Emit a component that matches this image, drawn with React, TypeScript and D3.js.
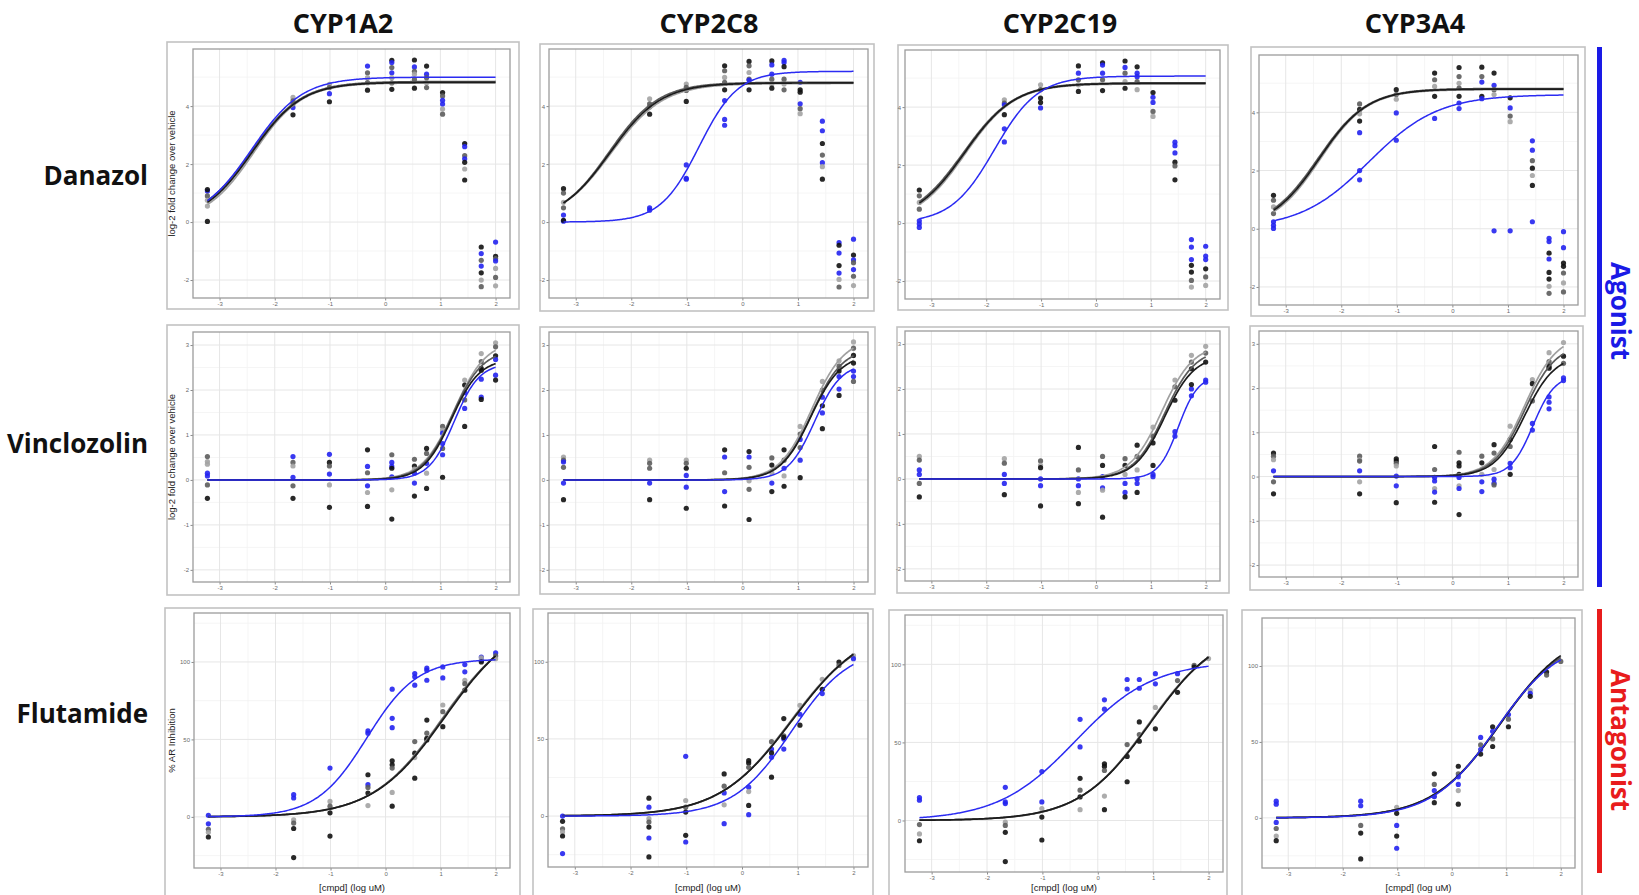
import { useEffect, useRef } from "react";
import * as d3 from "d3";

// log10 doses (uM) used in every panel
const doses = [-3.22, -1.67, -1.01, -0.32, 0.12, 0.53, 0.75, 1.04, 1.44, 1.74, 2.0];
const enzymes = ["CYP1A2", "CYP2C8", "CYP2C19", "CYP3A4"];
const compounds = ["Danazol", "Vinclozolin", "Flutamide"];
const yTitles = ["log-2 fold change over vehicle", "log-2 fold change over vehicle", "% AR Inhibition"];
const xTitle = "[cmpd] (log uM)";
const xTicks = [-3, -2, -1, 0, 1, 2];
const xMinor = [-2.5, -1.5, -0.5, 0.5, 1.5];
const yTicks = [[-2, 0, 2, 4], [-2, -1, 0, 1, 2, 3], [0, 50, 100]];
const yMinor = [[-1, 1, 3, 5], [-1.5, -0.5, 0.5, 1.5, 2.5], [-25, 25, 75, 125]];
const yDomains = [[-2.62, 5.97], [-2.27, 3.29], [-33, 131.6]];

// points per dose: [colour, value]  k=black g=grey l=light grey b=blue
const danazolCYP1A2 = [
  [["b", 1.07], ["k", 1.12], ["g", 0.9], ["l", 0.75], ["l", 0.55], ["k", 0.02]],
  [["l", 4.3], ["g", 4.18], ["b", 3.95], ["k", 3.7], ["g", 4.07]],
  [["l", 4.75], ["g", 4.64], ["b", 4.43], ["k", 4.15]],
  [["b", 5.38], ["g", 5.15], ["l", 4.98], ["g", 4.81], ["k", 4.55]],
  [["k", 5.58], ["b", 5.5], ["b", 5.15], ["g", 5.33], ["l", 4.98], ["g", 4.8], ["k", 4.58]],
  [["k", 5.59], ["b", 5.35], ["g", 5.2], ["l", 5.1], ["g", 4.92], ["k", 4.62]],
  [["k", 5.38], ["b", 5.1], ["g", 4.98], ["l", 4.81], ["g", 4.64]],
  [["k", 4.47], ["g", 4.35], ["b", 4.07], ["b", 4.2], ["l", 3.9], ["g", 3.72]],
  [["k", 2.71], ["b", 2.6], ["g", 2.29], ["b", 2.18], ["k", 2.06], ["l", 1.83], ["k", 1.45]],
  [["k", -0.86], ["b", -1.09], ["b", -1.52], ["k", -1.75], ["l", -2.0], ["g", -2.23], ["g", -1.32]],
  [["b", -0.69], ["k", -1.18], ["g", -1.26], ["b", -1.34], ["l", -1.6], ["g", -1.91], ["l", -2.2]],
];
const danazolCYP2C8 = [
  [["k", 1.15], ["g", 1.0], ["l", 0.68], ["g", 0.49], ["b", 0.24], ["b", 0.03], ["k", 0.06]],
  [["l", 4.25], ["g", 4.08], ["k", 3.72], ["b", 0.49], ["b", 0.41], ["g", 3.97]],
  [["l", 4.76], ["g", 4.65], ["g", 4.54], ["k", 4.16], ["b", 1.97], ["b", 1.48], ["b", 1.51]],
  [["k", 5.39], ["g", 5.22], ["l", 4.99], ["g", 4.82], ["k", 4.56], ["b", 4.19], ["b", 3.54], ["b", 3.34]],
  [["k", 5.54], ["g", 5.39], ["l", 5.16], ["g", 4.93], ["k", 4.56], ["b", 4.9]],
  [["k", 5.56], ["b", 5.42], ["b", 5.1], ["g", 4.93], ["l", 4.76], ["k", 4.62]],
  [["b", 5.58], ["b", 5.5], ["k", 5.36], ["g", 4.93], ["l", 4.76], ["g", 4.56]],
  [["b", 4.82], ["k", 4.56], ["k", 4.48], ["b", 4.08], ["g", 3.91], ["l", 3.74]],
  [["b", 3.48], ["b", 3.15], ["k", 2.71], ["g", 2.31], ["b", 2.05], ["l", 1.91], ["k", 1.48]],
  [["b", -0.71], ["k", -0.8], ["b", -1.07], ["k", -1.5], ["b", -1.76], ["l", -1.98], ["g", -2.24]],
  [["b", -0.59], ["k", -1.14], ["b", -1.3], ["b", -1.64], ["g", -1.87], ["l", -2.19], ["g", -1.4]],
];
const danazolCYP2C19 = [
  [["k", 1.14], ["g", 0.94], ["l", 0.71], ["g", 0.48], ["b", 0.08], ["b", -0.03], ["b", -0.15]],
  [["l", 4.25], ["g", 4.14], ["b", 4.08], ["k", 3.74], ["b", 3.25], ["b", 2.8]],
  [["l", 4.77], ["g", 4.6], ["k", 4.31], ["k", 4.16], ["b", 3.97]],
  [["k", 5.42], ["b", 5.17], ["g", 4.94], ["l", 4.77], ["k", 4.54]],
  [["k", 5.53], ["b", 5.45], ["b", 5.17], ["g", 4.94], ["k", 4.57]],
  [["k", 5.59], ["b", 5.37], ["g", 5.17], ["l", 4.88], ["k", 4.65]],
  [["k", 5.39], ["b", 5.17], ["b", 5.05], ["g", 4.88], ["l", 4.6]],
  [["k", 4.5], ["b", 4.34], ["b", 4.16], ["g", 3.85], ["l", 3.68]],
  [["b", 2.79], ["b", 2.67], ["b", 2.42], ["k", 2.1], ["g", 1.97], ["k", 1.49]],
  [["b", -0.57], ["b", -0.83], ["b", -1.26], ["k", -1.46], ["k", -1.69], ["g", -1.98], ["l", -2.21]],
  [["b", -0.8], ["b", -1.14], ["b", -1.26], ["k", -1.58], ["g", -1.86], ["l", -2.15]],
];
const danazolCYP3A4 = [
  [["k", 1.15], ["g", 0.98], ["l", 0.75], ["g", 0.52], ["b", 0.24], ["b", 0.12], ["b", 0.01]],
  [["g", 4.29], ["k", 4.1], ["k", 3.7], ["b", 3.3], ["b", 2.0], ["b", 1.68], ["l", 3.95]],
  [["k", 4.78], ["g", 4.61], ["b", 3.98], ["b", 3.04], ["l", 4.45]],
  [["k", 5.35], ["g", 5.12], ["l", 4.89], ["k", 4.55], ["b", 3.79]],
  [["k", 5.54], ["g", 5.23], ["l", 5.0], ["g", 4.83], ["k", 4.55], ["b", 4.32], ["b", 4.13]],
  [["k", 5.55], ["g", 5.23], ["b", 5.04], ["k", 4.55], ["b", 4.47]],
  [["k", 5.35], ["b", 4.93], ["g", 4.78], ["l", 4.61], ["b", -0.07]],
  [["k", 4.5], ["b", 4.15], ["g", 3.87], ["l", 3.68], ["b", -0.07]],
  [["b", 3.02], ["b", 2.7], ["g", 2.34], ["k", 2.08], ["l", 1.83], ["k", 1.49], ["b", 0.24]],
  [["b", -0.33], ["b", -0.44], ["k", -0.84], ["b", -1.04], ["k", -1.5], ["k", -1.73], ["l", -1.98], ["g", -2.22]],
  [["b", -0.1], ["b", -0.65], ["k", -1.18], ["k", -1.29], ["g", -1.52], ["l", -1.86], ["g", -2.17]],
];

const vinclozolinCYP1A2 = [
  [["g", 0.52], ["l", 0.41], ["b", 0.15], ["b", 0.09], ["g", -0.11], ["k", -0.41], ["l", 0.35]],
  [["b", 0.52], ["g", 0.39], ["l", 0.31], ["b", 0.06], ["g", -0.13], ["k", -0.41]],
  [["b", 0.57], ["k", 0.39], ["g", 0.31], ["b", 0.13], ["l", -0.11], ["k", -0.61]],
  [["k", 0.67], ["b", 0.3], ["g", 0.16], ["b", -0.13], ["l", -0.28], ["k", -0.59]],
  [["g", 0.56], ["b", 0.39], ["b", 0.3], ["k", 0.26], ["b", 0.07], ["l", -0.22], ["k", -0.87]],
  [["g", 0.46], ["k", 0.31], ["l", 0.24], ["b", 0.15], ["b", -0.07], ["k", -0.36]],
  [["k", 0.7], ["g", 0.59], ["b", 0.37], ["l", 0.15], ["k", -0.19]],
  [["g", 1.19], ["l", 1.11], ["b", 1.04], ["b", 0.81], ["g", 0.7], ["b", 0.56], ["k", 0.06]],
  [["l", 2.22], ["k", 2.11], ["b", 1.94], ["g", 1.78], ["b", 1.59], ["k", 1.19]],
  [["l", 2.81], ["g", 2.63], ["k", 2.48], ["k", 2.44], ["b", 2.24], ["b", 1.84], ["k", 1.79]],
  [["l", 3.05], ["g", 2.96], ["k", 2.76], ["b", 2.68], ["b", 2.33], ["k", 2.22]],
];
const vinclozolinCYP2C8 = [
  [["l", 0.51], ["g", 0.44], ["g", 0.28], ["b", -0.07], ["k", -0.44], ["b", 0.4]],
  [["l", 0.44], ["g", 0.37], ["g", 0.26], ["b", -0.07], ["k", -0.44]],
  [["l", 0.44], ["g", 0.37], ["k", 0.26], ["b", 0.1], ["b", -0.16], ["k", -0.63]],
  [["k", 0.67], ["b", 0.51], ["g", 0.16], ["b", -0.26], ["k", -0.58]],
  [["k", 0.63], ["b", 0.51], ["g", 0.28], ["l", -0.02], ["g", -0.21], ["k", -0.88]],
  [["g", 0.49], ["k", 0.33], ["l", 0.16], ["b", -0.07], ["k", -0.26]],
  [["k", 0.67], ["g", 0.44], ["b", 0.26], ["l", 0.09], ["k", -0.14]],
  [["l", 1.19], ["g", 1.02], ["b", 0.9], ["g", 0.72], ["b", 0.44], ["k", 0.05]],
  [["l", 2.19], ["g", 2.0], ["b", 1.84], ["k", 1.65], ["b", 1.49], ["k", 1.14]],
  [["l", 2.65], ["g", 2.53], ["k", 2.42], ["b", 2.3], ["b", 2.02], ["k", 1.88]],
  [["l", 3.07], ["g", 2.93], ["k", 2.77], ["k", 2.6], ["b", 2.42], ["b", 2.3], ["g", 2.19]],
];
const vinclozolinCYP2C19 = [
  [["l", 0.5], ["g", 0.42], ["b", 0.2], ["b", 0.1], ["g", -0.1], ["k", -0.4]],
  [["l", 0.45], ["g", 0.35], ["b", 0.1], ["b", -0.1], ["k", -0.35]],
  [["g", 0.4], ["l", 0.3], ["k", 0.25], ["b", 0.0], ["b", -0.15], ["k", -0.6]],
  [["k", 0.7], ["g", 0.2], ["b", 0.0], ["b", -0.15], ["l", -0.3], ["k", -0.55]],
  [["g", 0.5], ["k", 0.3], ["b", 0.05], ["b", -0.2], ["l", -0.25], ["k", -0.85]],
  [["g", 0.45], ["k", 0.3], ["l", 0.1], ["b", -0.1], ["b", -0.3], ["k", -0.4]],
  [["k", 0.75], ["g", 0.5], ["l", 0.2], ["b", 0.0], ["b", -0.1], ["k", -0.3]],
  [["l", 1.15], ["g", 0.95], ["k", 0.8], ["b", 0.1], ["b", 0.05], ["k", 0.3]],
  [["l", 2.2], ["g", 2.05], ["k", 1.75], ["b", 1.05], ["b", 0.95]],
  [["l", 2.75], ["g", 2.6], ["k", 2.45], ["b", 2.0], ["b", 1.85], ["k", 2.1]],
  [["l", 2.95], ["g", 2.8], ["k", 2.6], ["b", 2.2], ["b", 2.15]],
];
const vinclozolinCYP3A4 = [
  [["k", 0.53], ["g", 0.46], ["l", 0.38], ["b", 0.13], ["g", -0.12], ["k", -0.39]],
  [["g", 0.46], ["l", 0.38], ["g", 0.35], ["b", 0.13], ["l", -0.12], ["k", -0.39]],
  [["k", 0.4], ["k", 0.35], ["g", 0.3], ["l", 0.24], ["b", 0.01], ["b", -0.21], ["k", -0.59]],
  [["k", 0.68], ["g", 0.16], ["b", -0.02], ["b", -0.1], ["l", -0.27], ["b", -0.35], ["k", -0.58]],
  [["g", 0.55], ["k", 0.31], ["k", 0.24], ["k", 0.05], ["b", -0.02], ["l", -0.21], ["b", -0.27], ["k", -0.86]],
  [["g", 0.46], ["k", 0.31], ["l", 0.05], ["b", -0.12], ["b", -0.34]],
  [["k", 0.72], ["g", 0.53], ["l", 0.16], ["b", -0.06], ["b", -0.15], ["g", -0.19]],
  [["l", 1.14], ["k", 0.84], ["g", 0.68], ["b", 0.3], ["b", 0.2], ["k", 0.05]],
  [["l", 2.19], ["k", 2.1], ["g", 1.71], ["b", 1.2], ["b", 1.05]],
  [["l", 2.8], ["g", 2.6], ["k", 2.49], ["k", 2.45], ["b", 1.8], ["b", 1.68], ["b", 1.53]],
  [["l", 3.03], ["k", 2.72], ["g", 2.56], ["b", 2.23], ["b", 2.17]],
];

const flutamideCYP1A2 = [
  [["b", 1], ["b", -4.5], ["g", -8], ["l", -10], ["k", -13]],
  [["b", 14.3], ["b", 12.2], ["l", -2], ["g", -4], ["k", -7.5], ["k", -26.3]],
  [["b", 31.5], ["l", 10], ["g", 6.9], ["k", 2.6], ["k", -12.4]],
  [["b", 55.5], ["b", 54], ["k", 27.2], ["b", 20.8], ["g", 19], ["k", 15.4], ["l", 7.3]],
  [["b", 82.4], ["b", 63.6], ["b", 57.6], ["k", 36.2], ["k", 33.6], ["g", 31.5], ["l", 15.8], ["k", 6.9]],
  [["b", 92.5], ["b", 90.4], ["b", 85], ["g", 48.6], ["k", 41.1], ["l", 38.3], ["k", 25]],
  [["b", 96], ["b", 94.6], ["b", 88.2], ["k", 62.5], ["g", 54], ["k", 50.7], ["k", 49.7]],
  [["b", 96.8], ["b", 89.7], ["l", 72.2], ["g", 67.9], ["k", 58.2]],
  [["b", 98.3], ["b", 93.6], ["l", 88.2], ["g", 86], ["k", 81.8]],
  [["b", 103.2], ["b", 101], ["l", 102.6], ["k", 100]],
  [["b", 105.8], ["g", 103.9], ["l", 102.1]],
];
const flutamideCYP2C8 = [
  [["b", 0], ["k", -3.4], ["g", -8.2], ["l", -10.3], ["k", -12.9], ["b", -24.3]],
  [["k", 11.6], ["b", 5.8], ["l", -1.7], ["g", -3.9], ["k", -7.1], ["b", -14.2], ["k", -26.5]],
  [["b", 38.7], ["l", 10.1], ["g", 5.8], ["k", 2.6], ["k", -12.5], ["b", -16.8]],
  [["k", 27.3], ["g", 19.4], ["b", 15], ["l", 7.3], ["b", -4.9]],
  [["k", 35.9], ["k", 34.4], ["g", 31.6], ["b", 18.7], ["l", 15.9], ["k", 6.9], ["b", 0.9]],
  [["g", 48.2], ["b", 43.4], ["k", 40.9], ["b", 38.1], ["k", 25.2]],
  [["k", 63.2], ["g", 52], ["b", 49.9], ["k", 51], ["b", 43.4]],
  [["l", 71.8], ["b", 66], ["k", 58.9]],
  [["l", 88.6], ["k", 82.2], ["b", 79.4]],
  [["k", 99.8], ["g", 97.6]],
  [["l", 104], ["b", 102]],
];
const flutamideCYP2C19 = [
  [["b", 14.7], ["b", 13], ["g", -2.6], ["l", -8.6], ["k", -13]],
  [["b", 21.2], ["b", 11.9], ["b", 10.8], ["l", -1.1], ["g", -3.2], ["k", -7.6], ["k", -26.3]],
  [["b", 31.3], ["b", 11.9], ["l", 7.6], ["k", 2.2], ["k", -12.5]],
  [["b", 64.8], ["b", 47.1], ["k", 27], ["g", 19.4], ["k", 15.1], ["l", 6.9]],
  [["b", 77.3], ["b", 71.3], ["k", 36.3], ["k", 34.6], ["g", 32], ["l", 15.6], ["k", 6.9]],
  [["b", 90.3], ["b", 84.2], ["g", 48.6], ["k", 41], ["k", 24.8]],
  [["b", 90.3], ["b", 84.7], ["k", 63.1], ["g", 55], ["k", 50.8]],
  [["b", 94], ["b", 87.5], ["l", 72.4], ["k", 58.7]],
  [["b", 94], ["g", 89.6], ["k", 82.1]],
  [["g", 99.4], ["k", 98.3]],
  [["l", 103.7]],
];
const flutamideCYP3A4 = [
  [["b", 11], ["b", 9], ["g", -7], ["l", -12], ["k", -15], ["b", -3]],
  [["b", 11], ["b", 8], ["g", -5], ["k", -10], ["k", -27]],
  [["l", 7], ["b", -5], ["k", -12], ["b", -20], ["k", 3]],
  [["k", 29], ["g", 22], ["b", 18], ["l", 14], ["k", 10], ["b", 14]],
  [["k", 34], ["g", 29], ["b", 27], ["b", 22], ["k", 9], ["l", 18]],
  [["b", 53], ["g", 48], ["k", 42], ["b", 45]],
  [["k", 60], ["b", 57], ["g", 52], ["k", 47]],
  [["b", 68], ["g", 65], ["k", 60]],
  [["l", 84], ["b", 82], ["k", 80]],
  [["k", 96], ["g", 94]],
  [["g", 103]],
];

// fitted 4-parameter curves: [enzyme index, colour, bottom, top, logEC50, hill]
const danazolFits = [
  [0, "l", 0, 4.8, -2.38, 1.0], [0, "g", 0, 4.85, -2.43, 0.95], [0, "k", 0, 4.82, -2.41, 0.97], [0, "b", 0, 5.0, -2.42, 0.95],
  [1, "l", 0, 4.78, -2.36, 0.93], [1, "g", 0, 4.82, -2.4, 0.97], [1, "k", 0, 4.8, -2.38, 0.95], [1, "b", 0, 5.2, -0.78, 1.25],
  [2, "l", 0, 4.8, -2.38, 0.97], [2, "g", 0, 4.84, -2.42, 0.93], [2, "k", 0, 4.82, -2.4, 0.95], [2, "b", 0, 5.07, -1.85, 1.1],
  [3, "l", 0, 4.78, -2.38, 1.02], [3, "g", 0, 4.82, -2.42, 0.98], [3, "k", 0, 4.8, -2.4, 1.0], [3, "b", 0, 4.61, -1.5, 0.7],
];
const vinclozolinFits = [
  [0, "l", 0, 3.1, 1.25, 1.5], [0, "g", 0, 2.9, 1.22, 1.6], [0, "k", 0, 2.7, 1.2, 1.7], [0, "b", 0, 2.6, 1.25, 1.9],
  [1, "l", 0, 3.15, 1.25, 1.5], [1, "g", 0, 2.95, 1.25, 1.55], [1, "k", 0, 2.8, 1.23, 1.6], [1, "b", 0, 2.6, 1.3, 1.8],
  [2, "l", 0, 3.0, 1.2, 1.5], [2, "g", 0, 2.9, 1.25, 1.55], [2, "k", 0, 2.75, 1.25, 1.6], [2, "b", 0, 2.3, 1.5, 2.4],
  [3, "l", 0, 3.2, 1.3, 1.5], [3, "g", 0, 3.0, 1.3, 1.55], [3, "k", 0, 2.75, 1.3, 1.6], [3, "b", 0, 2.3, 1.45, 2.2],
];
const flutamideFits = [
  [0, "l", 0, 126, 1.02, 0.68], [0, "g", 0, 128, 1.05, 0.67], [0, "k", 0, 130, 1.09, 0.66], [0, "b", 0, 102, -0.34, 0.95],
  [1, "l", 0, 122, 0.86, 0.68], [1, "g", 0, 123, 0.88, 0.67], [1, "k", 0, 125, 0.91, 0.66], [1, "b", 0, 110, 0.89, 0.83],
  [2, "l", 0, 122, 0.9, 0.7], [2, "g", 0, 123, 0.92, 0.69], [2, "k", 0, 125, 0.95, 0.68], [2, "b", 0, 102, -0.4, 0.62],
  [3, "l", 0, 121, 0.85, 0.72], [3, "g", 0, 123, 0.88, 0.7], [3, "k", 0, 125, 0.9, 0.7], [3, "b", 0, 118, 0.82, 0.74],
];

const pointColor = { k: "#111111", g: "#5c5c5c", l: "#a3a3a3", b: "#2323f0" };
const lineColor = { k: "#1c1c1c", g: "#5a5a5a", l: "#a0a0a0", b: "#2b2bf2" };

// layout (px)
const outerBoxes = [
  [[167, 42, 519, 309], [540, 44, 874, 311], [898, 45, 1228, 310], [1251, 47, 1585, 316]],
  [[167, 325, 519, 595], [540, 327, 875, 594], [897, 327, 1229, 593], [1250, 326, 1583, 590]],
  [[165, 608, 520, 905], [533, 609, 873, 905], [889, 610, 1227, 905], [1242, 610, 1582, 905]],
];
const innerBoxes = [
  [[193, 49, 510, 298], [549, 49, 868, 298], [905, 50, 1220, 299], [1259, 55, 1578, 305]],
  [[193, 332, 510, 582], [549, 332, 868, 582], [905, 331, 1220, 581], [1259, 331, 1578, 577]],
  [[194, 613, 510, 868], [548, 613, 868, 867], [905, 615, 1223, 872], [1262, 618, 1575, 868]],
];
const titleX = [343, 709, 1060, 1415];
const rowLabelY = [176, 444, 714];

export default function App() {
  const svgRef = useRef(null);

  useEffect(() => {
    const svg = d3.select(svgRef.current);
    svg.selectAll("*").remove();
    svg.append("rect").attr("width", 1639).attr("height", 895).attr("fill", "#fff");

    const bold = "'Open Sans', 'Noto Sans', sans-serif";
    const small = "'Liberation Sans', Arial, sans-serif";

    // column titles
    enzymes.forEach((name, j) => {
      svg.append("text").attr("x", titleX[j]).attr("y", 33)
        .attr("text-anchor", "middle").attr("font-family", bold)
        .attr("font-weight", 700).attr("font-size", 27).attr("fill", "#111")
        .text(name);
    });
    // row labels
    compounds.forEach((name, i) => {
      svg.append("text").attr("x", 148).attr("y", rowLabelY[i] + 9)
        .attr("text-anchor", "end").attr("font-family", bold)
        .attr("font-weight", 700).attr("font-size", 26).attr("fill", "#111")
        .text(name);
    });

    // agonist / antagonist bars
    svg.append("rect").attr("x", 1597).attr("y", 47).attr("width", 5).attr("height", 540).attr("fill", "#1a1ae6");
    svg.append("rect").attr("x", 1597).attr("y", 609).attr("width", 5).attr("height", 264).attr("fill", "#e81c1c");
    const side = [["Agonist", 311, "#1a1ae6"], ["Antagonist", 740, "#e81c1c"]];
    side.forEach(([t, cy, c]) => {
      svg.append("text").attr("transform", `translate(1621, ${cy}) rotate(90)`)
        .attr("text-anchor", "middle").attr("dominant-baseline", "central")
        .attr("font-family", bold).attr("font-weight", 700).attr("font-size", 26)
        .attr("fill", c).text(t);
    });

    const pointTable = [
      [danazolCYP1A2, danazolCYP2C8, danazolCYP2C19, danazolCYP3A4],
      [vinclozolinCYP1A2, vinclozolinCYP2C8, vinclozolinCYP2C19, vinclozolinCYP3A4],
      [flutamideCYP1A2, flutamideCYP2C8, flutamideCYP2C19, flutamideCYP3A4],
    ];
    const fitTable = [danazolFits, vinclozolinFits, flutamideFits];
    const hill = (xv, f) => f[2] + (f[3] - f[2]) / (1 + Math.pow(10, f[5] * (f[4] - xv)));
    const curveX = d3.range(doses[0], doses[doses.length - 1] + 1e-9, 0.02);

    pointTable.forEach((rowPts, i) => {
      rowPts.forEach((pts, j) => {
        const [ox0, oy0, ox1, oy1] = outerBoxes[i][j];
        const [x0, y0, x1, y1] = innerBoxes[i][j];
        svg.append("rect").attr("x", ox0).attr("y", oy0)
          .attr("width", ox1 - ox0).attr("height", oy1 - oy0)
          .attr("fill", "#fff").attr("stroke", "#c2c2c2").attr("stroke-width", 1.6);

        const x = d3.scaleLinear().domain([-3.481, 2.261]).range([x0, x1]);
        const y = d3.scaleLinear().domain(yDomains[i]).range([y1, y0]);
        const g = svg.append("g");

        // grid
        xMinor.forEach((v) => g.append("line").attr("x1", x(v)).attr("x2", x(v)).attr("y1", y0).attr("y2", y1)
          .attr("stroke", "#f3f3f3").attr("stroke-width", 0.8));
        yMinor[i].forEach((v) => g.append("line").attr("x1", x0).attr("x2", x1).attr("y1", y(v)).attr("y2", y(v))
          .attr("stroke", "#f3f3f3").attr("stroke-width", 0.8));
        xTicks.forEach((v) => g.append("line").attr("x1", x(v)).attr("x2", x(v)).attr("y1", y0).attr("y2", y1)
          .attr("stroke", "#e6e6e6").attr("stroke-width", 1));
        yTicks[i].forEach((v) => g.append("line").attr("x1", x0).attr("x2", x1).attr("y1", y(v)).attr("y2", y(v))
          .attr("stroke", "#e6e6e6").attr("stroke-width", 1));

        // axes
        const xAxis = d3.axisBottom(x).tickValues(xTicks).tickSize(2.5).tickPadding(1.5).tickFormat((d) => String(d));
        const xg = g.append("g").attr("transform", `translate(0, ${y1})`).call(xAxis);
        const yAxis = d3.axisLeft(y).tickValues(yTicks[i]).tickSize(2.5).tickPadding(1.5).tickFormat((d) => String(d));
        const yg = g.append("g").attr("transform", `translate(${x0}, 0)`).call(yAxis);
        [xg, yg].forEach((ax) => {
          ax.select(".domain").remove();
          ax.selectAll("line").attr("stroke", "#8a8a8a");
          ax.selectAll("text").attr("font-family", small).attr("font-size", 6).attr("fill", "#6a6a6a");
        });

        // points
        pts.forEach((group, di) => {
          group.forEach(([c, v]) => {
            g.append("circle").attr("cx", x(doses[di])).attr("cy", y(v)).attr("r", 2.6)
              .attr("fill", pointColor[c]).attr("fill-opacity", 0.9);
          });
        });

        // fitted curves
        const line = d3.line().x((d) => x(d[0])).y((d) => y(d[1])).curve(d3.curveLinear);
        fitTable[i].filter((f) => f[0] === j).forEach((f) => {
          g.append("path").attr("d", line(curveX.map((xv) => [xv, hill(xv, f)])))
            .attr("fill", "none").attr("stroke", lineColor[f[1]])
            .attr("stroke-width", f[1] === "b" ? 1.5 : 1.7);
        });

        // panel border
        g.append("rect").attr("x", x0).attr("y", y0).attr("width", x1 - x0).attr("height", y1 - y0)
          .attr("fill", "none").attr("stroke", "#9c9c9c").attr("stroke-width", 1.3);

        // axis titles
        if (j === 0) {
          g.append("text").attr("transform", `translate(175, ${(y0 + y1) / 2}) rotate(-90)`)
            .attr("text-anchor", "middle").attr("font-family", small).attr("font-size", 9.5)
            .attr("fill", "#222").text(yTitles[i]);
        }
        if (i === 2) {
          g.append("text").attr("x", (x0 + x1) / 2).attr("y", 891)
            .attr("text-anchor", "middle").attr("font-family", small).attr("font-size", 9.5)
            .attr("fill", "#222").text(xTitle);
        }
      });
    });
  }, []);

  return (
    <svg
      ref={svgRef}
      width={1639}
      height={895}
      style={{ position: "absolute", left: 0, top: 0 }}
    />
  );
}
